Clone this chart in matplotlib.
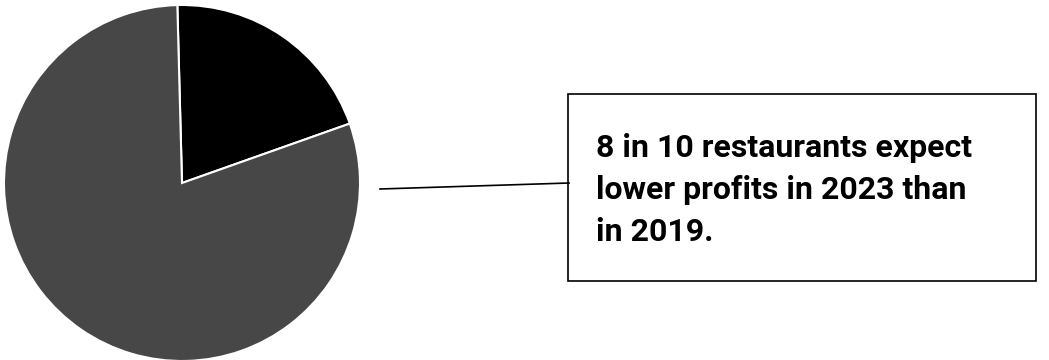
import matplotlib
matplotlib.use("Agg")
import matplotlib.pyplot as plt
from matplotlib.patches import Rectangle
from matplotlib.lines import Line2D

labels = ["Lower profits", "Other"]
values = [80, 20]
colors = ["#474747", "#000000"]
note = "8 in 10 restaurants expect\nlower profits in 2023 than\nin 2019."

W, H = 1049, 360
fig = plt.figure(figsize=(W / 100, H / 100), dpi=100)

# pie axes
cx, cy, r = 182, 183, 178
ax = fig.add_axes([(cx - r) / W, (H - cy - r) / H, 2 * r / W, 2 * r / H])
ax.pie(values[::-1], colors=colors[::-1], startangle=91.5, counterclock=False,
       wedgeprops=dict(edgecolor="white", linewidth=1.5), radius=1.0)
ax.set_xlim(-1, 1)
ax.set_ylim(-1, 1)
ax.set_aspect("equal")
ax.axis("off")

# overlay axes in pixel coords for annotation
ov = fig.add_axes([0, 0, 1, 1])
ov.set_xlim(0, W)
ov.set_ylim(H, 0)
ov.axis("off")
ov.add_line(Line2D([380, 569], [189, 183], color="black", linewidth=1.2))
ov.add_patch(Rectangle((568, 94), 468, 187, fill=False, edgecolor="black", linewidth=1.2))
ov.text(596, 190, note, fontsize=23, fontweight="bold", family="Roboto",
        va="center", ha="left", linespacing=1.5, color="black")

fig.savefig("out.png", dpi=100)
